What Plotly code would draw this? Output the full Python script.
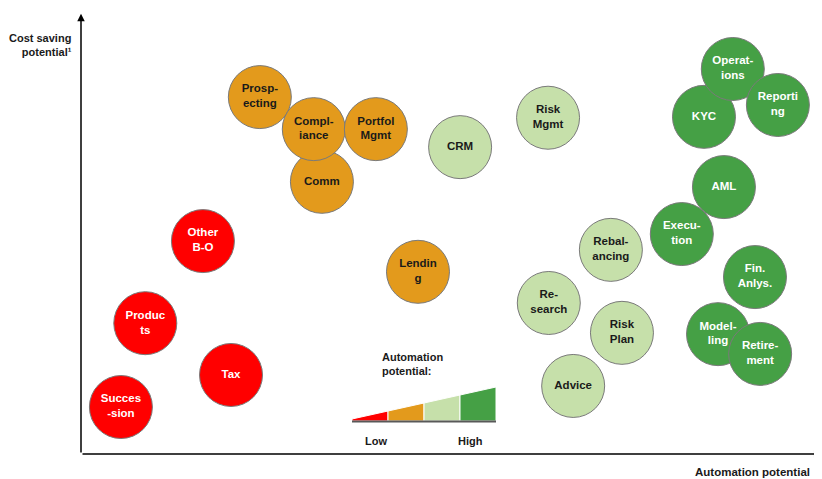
import plotly.graph_objects as go

# ---- data (automation potential = x, cost saving potential = y, both 0-100) ----
labels = ["Prosp-<br>ecting", "Comm", "Compl-<br>iance", "Portfol<br>Mgmt", "CRM", "Risk<br>Mgmt",
          "KYC", "Operat-<br>ions", "Reporti<br>ng", "AML", "Execu-<br>tion", "Other<br>B-O",
          "Lendin<br>g", "Rebal-<br>ancing", "Fin.<br>Anlys.", "Produc<br>ts", "Re-<br>search",
          "Risk<br>Plan", "Model-<br>ling", "Retire-<br>ment", "Tax", "Advice", "Succes<br>-sion"]
automation = [24.2, 32.6, 31.5, 39.9, 51.3, 63.2,
              84.3, 88.2, 94.3, 87.0, 81.3, 16.5,
              45.6, 71.7, 91.2, 8.7, 63.3,
              73.2, 86.2, 91.9, 20.3, 66.6, 5.4]
cost_saving = [81.3, 62.0, 74.0, 74.0, 69.9, 76.6,
               76.8, 87.7, 79.5, 60.8, 50.1, 48.5,
               41.5, 46.5, 40.3, 29.8, 34.4,
               27.6, 27.3, 22.8, 18.0, 15.5, 10.7]
level = ["mid", "mid", "mid", "mid", "midhigh", "midhigh",
         "high", "high", "high", "high", "high", "low",
         "mid", "midhigh", "high", "low", "midhigh",
         "midhigh", "high", "high", "low", "midhigh", "low"]

legend_levels = ["low", "mid", "midhigh", "high"]
fill = {"low": "#FF0000", "mid": "#E39A1C", "midhigh": "#C6E0AA", "high": "#45A045"}
txtcol = {"low": "white", "mid": "#1a1a1a", "midhigh": "#1a1a1a", "high": "white"}

FONT = "Liberation Sans, Arial, sans-serif"

fig = go.Figure()
fig.add_trace(go.Scatter(
    x=automation, y=cost_saving, mode="markers+text",
    text=["<b>" + t + "</b>" for t in labels],
    textposition="middle center",
    textfont=dict(family=FONT, size=11.5, color=[txtcol[l] for l in level]),
    marker=dict(size=63, color=[fill[l] for l in level],
                line=dict(color="#7a7a7a", width=1), opacity=1),
    hoverinfo="text", showlegend=False, cliponaxis=False,
))

# helper for decoration placement (screen pixel -> data)
def px(xp, yp):
    return (xp - 81) / 7.39, (454 - yp) / 4.39

shapes = []
# legend ramp
ramp_x = [352, 388, 424, 460, 496]
ramp_top = [419, 411, 403, 395, 387]
for i, lv in enumerate(legend_levels):
    x0, yb = px(ramp_x[i], 421)
    x1, _ = px(ramp_x[i + 1], 421)
    _, yt0 = px(0, ramp_top[i])
    _, yt1 = px(0, ramp_top[i + 1])
    shapes.append(dict(type="path", xref="x", yref="y",
                       path=f"M{x0},{yb} L{x0},{yt0} L{x1},{yt1} L{x1},{yb} Z",
                       fillcolor=fill[lv], line=dict(color="white", width=1)))
bx0, by = px(352, 421.5)
bx1, _ = px(496, 421.5)
shapes.append(dict(type="line", xref="x", yref="y", x0=bx0, x1=bx1, y0=by, y1=by,
                   line=dict(color="#595959", width=2)))

annotations = [
    # axes with arrows
    dict(x=0, y=100.3, ax=0, ay=0, xref="x", yref="y", axref="x", ayref="y",
         showarrow=True, arrowhead=2, arrowsize=1, arrowwidth=1.5, arrowcolor="black", text=""),
    dict(x=100.2, y=0, ax=0, ay=0, xref="x", yref="y", axref="x", ayref="y",
         showarrow=True, arrowhead=2, arrowsize=1, arrowwidth=1.5, arrowcolor="black", text=""),
    dict(x=(74 - 81) / 739, y=(454 - 45) / 439, xref="paper", yref="paper",
         xanchor="right", yanchor="middle", align="right", showarrow=False,
         text="<b>Cost saving<br>potential¹</b>", font=dict(family=FONT, size=11, color="#1a1a1a")),
    dict(x=(812 - 81) / 739, y=(454 - 472) / 439, xref="paper", yref="paper",
         xanchor="right", yanchor="middle", showarrow=False,
         text="<b>Automation potential</b>", font=dict(family=FONT, size=11.5, color="#1a1a1a")),
]
lx, ly = px(380, 364)
annotations.append(dict(x=lx, y=ly, xref="x", yref="y", xanchor="left", yanchor="middle",
                        align="left", showarrow=False, text="<b>Automation<br>potential:</b>",
                        font=dict(family=FONT, size=11, color="#1a1a1a")))
for t, xp in (("Low", 376), ("High", 470)):
    ax_, ay_ = px(xp, 441)
    annotations.append(dict(x=ax_, y=ay_, xref="x", yref="y", xanchor="center", yanchor="middle",
                            showarrow=False, text=f"<b>{t}</b>",
                            font=dict(family=FONT, size=11, color="#1a1a1a")))

# page body has an 8px default margin: figure is 814x471 placed at (8, 8)
fig.update_layout(
    width=814, height=471,
    margin=dict(l=73, r=2, t=7, b=25),
    paper_bgcolor="white", plot_bgcolor="white",
    xaxis=dict(range=[0, 100], visible=False, fixedrange=True),
    yaxis=dict(range=[0, 100], visible=False, fixedrange=True),
    shapes=shapes, annotations=annotations,
    font=dict(family=FONT),
)

fig.write_html("out.html")
